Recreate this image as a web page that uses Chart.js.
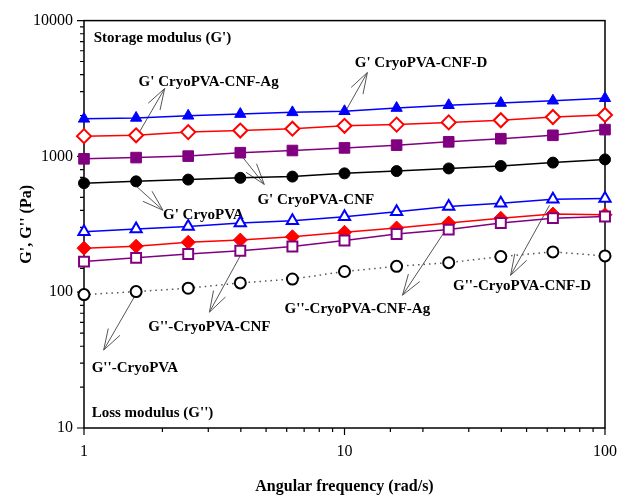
<!DOCTYPE html>
<html>
<head>
<meta charset="utf-8">
<script src="https://cdn.jsdelivr.net/npm/chart.js@4.4.0/dist/chart.umd.min.js"></script>
<style>
  html, body { margin: 0; padding: 0; background: #fff; }
</style>
</head>
<body>
<canvas id="chart" width="631" height="497"></canvas>
<script>
// angular frequency (rad/s)
const frequency = [1, 1.585, 2.512, 3.981, 6.31, 10, 15.85, 25.12, 39.81, 63.1, 100];

// storage modulus G' (Pa)
const gpCryoPvaCnfD  = [1890, 1920, 1990, 2050, 2110, 2150, 2270, 2380, 2470, 2570, 2680];
const gpCryoPvaCnfAg = [1410, 1430, 1510, 1550, 1600, 1680, 1715, 1780, 1845, 1950, 2020];
const gpCryoPvaCnf   = [960, 980, 1005, 1065, 1105, 1155, 1210, 1280, 1350, 1430, 1575];
const gpCryoPva      = [635, 655, 675, 695, 710, 750, 780, 815, 850, 900, 950];

// loss modulus G'' (Pa)
const gppCryoPvaCnfD  = [279, 292, 305, 323, 336, 360, 391, 428, 452, 484, 490];
const gppCryoPvaCnfAg = [211, 218, 233, 242, 256, 276, 297, 323, 350, 376, 372];
const gppCryoPvaCnf   = [168, 179, 191, 202, 217, 240, 268, 289, 323, 351, 361];
const gppCryoPva      = [96, 101, 107, 117, 125, 142, 155, 165, 183, 198, 185];

const xTickLabels = [1, 10, 100];
const yTickLabels = [10, 100, 1000, 10000];

// annotation texts, placed in data coordinates [x, y]
const noteTexts = [
  "Storage modulus (G')", "G' CryoPVA-CNF-D", "G' CryoPVA-CNF-Ag", "G' CryoPVA-CNF",
  "G' CryoPVA", "G''-CryoPVA-CNF", "G''-CryoPVA-CNF-Ag", "G''-CryoPVA-CNF-D",
  "G''-CryoPVA", "Loss modulus (G'')"
];
const notePos = [
  [1.09, 7373], [10.95, 4830], [1.62, 3500], [4.63, 475],
  [2.01, 368], [1.765, 55.3], [5.89, 75], [26.1, 110.7],
  [1.07, 27.6], [1.07, 12.9]
];
// arrows: [tailX, tailY, tipX, tipY]
const arrows = [
  [10.13, 2179, 12.24, 4146],
  [1.62, 1476, 2.04, 3162],
  [4.07, 983, 4.92, 622],
  [1.59, 602, 2.01, 401],
  [4.03, 193.6, 3.03, 71.3],
  [25.0, 306, 16.7, 95],
  [61.2, 436, 43.4, 133],
  [1.59, 98.3, 1.19, 37.5]
];

const SERIF = "'Liberation Serif', 'Times New Roman', serif";
Chart.defaults.font.family = SERIF;
Chart.defaults.color = '#000';

function pts(values) {
  return frequency.map((f, i) => ({ x: f, y: values[i] }));
}

function isDecade(v) {
  const l = Math.log10(v);
  return Math.abs(l - Math.round(l)) < 1e-9;
}

function series(values, color, style, filled, radius, dashed) {
  return {
    data: pts(values),
    borderColor: dashed ? '#555' : color,
    borderWidth: dashed ? 1.5 : 1.5,
    borderDash: dashed ? [1.5, 4] : [],
    pointStyle: style,
    pointRadius: radius,
    pointBorderColor: color,
    pointBackgroundColor: filled ? color : '#fff',
    pointBorderWidth: filled ? 1 : 2,
    clip: false,
    tension: 0
  };
}

// tick marks, frame, notes and arrows
const decorPlugin = {
  id: 'decor',
  beforeDatasetsDraw(chart) {
    const { ctx, chartArea: a, scales: { x, y } } = chart;
    ctx.save();
    ctx.strokeStyle = '#000';
    ctx.lineWidth = 1.5;
    ctx.strokeRect(a.left, a.top, a.right - a.left, a.bottom - a.top);
    ctx.lineWidth = 1.2;
    ctx.beginPath();
    x.ticks.forEach(t => {
      const px = x.getPixelForValue(t.value);
      ctx.moveTo(px, a.bottom);
      ctx.lineTo(px, a.bottom + (isDecade(t.value) ? 7 : 4));
    });
    y.ticks.forEach(t => {
      const py = y.getPixelForValue(t.value);
      ctx.moveTo(a.left, py);
      ctx.lineTo(a.left - (isDecade(t.value) ? 7 : 4), py);
    });
    ctx.stroke();

    // arrows
    ctx.strokeStyle = '#555';
    ctx.lineWidth = 1;
    arrows.forEach(([tx, ty, hx, hy]) => {
      const x0 = x.getPixelForValue(tx), y0 = y.getPixelForValue(ty);
      const x1 = x.getPixelForValue(hx), y1 = y.getPixelForValue(hy);
      const ang = Math.atan2(y0 - y1, x0 - x1);
      const wing = 22, spread = 18 * Math.PI / 180;
      ctx.beginPath();
      ctx.moveTo(x0, y0);
      ctx.lineTo(x1, y1);
      ctx.moveTo(x1 + wing * Math.cos(ang - spread), y1 + wing * Math.sin(ang - spread));
      ctx.lineTo(x1, y1);
      ctx.lineTo(x1 + wing * Math.cos(ang + spread), y1 + wing * Math.sin(ang + spread));
      ctx.stroke();
    });

    // notes
    ctx.fillStyle = '#000';
    ctx.font = 'bold 15px ' + SERIF;
    ctx.textAlign = 'left';
    ctx.textBaseline = 'middle';
    noteTexts.forEach((txt, i) => {
      ctx.fillText(txt, x.getPixelForValue(notePos[i][0]), y.getPixelForValue(notePos[i][1]));
    });
    ctx.restore();
  }
};

new Chart(document.getElementById('chart'), {
  type: 'line',
  data: {
    datasets: [
      series(gppCryoPva, '#000', 'circle', false, 5.5, true),
      series(gppCryoPvaCnf, '#800080', 'rect', false, 7, false),
      series(gppCryoPvaCnfAg, '#ff0000', 'rectRot', true, 7, false),
      series(gppCryoPvaCnfD, '#0000ff', 'triangle', false, 6.5, false),
      series(gpCryoPva, '#000', 'circle', true, 5.5, false),
      series(gpCryoPvaCnf, '#800080', 'rect', true, 7.5, false),
      series(gpCryoPvaCnfAg, '#ff0000', 'rectRot', false, 7, false),
      series(gpCryoPvaCnfD, '#0000ff', 'triangle', true, 6.5, false)
    ]
  },
  options: {
    responsive: false,
    animation: false,
    devicePixelRatio: 1,
    layout: { padding: { top: 20, right: 12, left: 0, bottom: 0 } },
    plugins: {
      legend: { display: false },
      tooltip: { enabled: false }
    },
    scales: {
      x: {
        type: 'logarithmic',
        min: 1,
        max: 100,
        grid: { display: false, drawTicks: false },
        border: { display: false },
        ticks: {
          autoSkip: false,
          maxRotation: 0,
          padding: 14,
          font: { size: 16 },
          callback: v => xTickLabels.includes(v) ? String(v) : ''
        },
        title: {
          display: true,
          text: 'Angular frequency (rad/s)',
          font: { size: 16, weight: 'bold' },
          padding: { top: 0, bottom: 1 }
        },
        afterFit: s => { s.height = 69; }
      },
      y: {
        type: 'logarithmic',
        min: 10,
        max: 10000,
        grid: { display: false, drawTicks: false },
        border: { display: false },
        ticks: {
          autoSkip: false,
          padding: 11,
          font: { size: 16 },
          callback: v => yTickLabels.includes(v) ? String(v) : ''
        },
        title: {
          display: true,
          text: "G', G'' (Pa)",
          font: { size: 16, weight: 'bold' },
          padding: { top: 17, bottom: 0 }
        },
        afterFit: s => { s.width = 84; }
      }
    }
  },
  plugins: [decorPlugin]
});
</script>
</body>
</html>
